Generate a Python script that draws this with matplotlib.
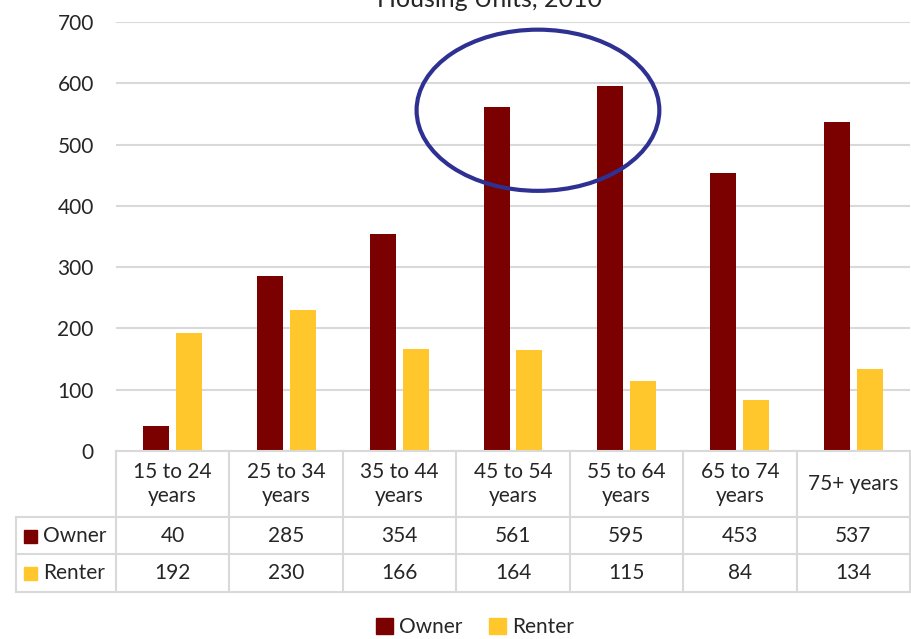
import matplotlib.pyplot as plt
from matplotlib.patches import Ellipse, Patch
import numpy as np

plt.rcParams['font.family'] = ['Lato', 'DejaVu Sans']

categories = ['15 to 24\nyears', '25 to 34\nyears', '35 to 44\nyears', '45 to 54\nyears',
              '55 to 64\nyears', '65 to 74\nyears', '75+ years']
owner = [40, 285, 354, 561, 595, 453, 537]
renter = [192, 230, 166, 164, 115, 84, 134]
series_names = ['Owner', 'Renter']
colors = ['#7B0000', '#FFC72C']
grid_col = '#D9D9D9'
txt_col = '#262626'
fs = 15

W, H = 912, 639
fig = plt.figure(figsize=(W / 100, H / 100), dpi=100)

def px_axes(x0, y0, x1, y1):
    # axes placed by pixel box (top-left origin)
    return fig.add_axes([x0 / W, 1 - y1 / H, (x1 - x0) / W, (y1 - y0) / H])

ax = px_axes(116, 22, 910, 451)
x = np.arange(len(categories))
bw = 0.23
ax.bar(x - 0.145, owner, bw, color=colors[0])
ax.bar(x + 0.145, renter, bw, color=colors[1])
ax.set_xlim(-0.5, len(categories) - 0.5)
ax.set_ylim(0, 700)
ax.set_yticks(range(0, 701, 100))
ax.yaxis.grid(True, color=grid_col, linewidth=1.5)
ax.set_axisbelow(True)
ax.tick_params(axis='y', length=0, pad=16, labelsize=fs, labelcolor=txt_col)
ax.tick_params(axis='x', bottom=False, labelbottom=False)
for s in ax.spines.values():
    s.set_visible(False)

# title sits partly above the top edge of the figure
fig.text(490 / W, 1 - 7 / H, 'Housing Units, 2010', ha='center', va='baseline',
         fontsize=18, color=txt_col)

# highlight around the two peak owner groups
ax.add_patch(Ellipse((3.22, 556), 2.14, 263, fill=False, edgecolor='#2E3192',
                     linewidth=3, clip_on=False, zorder=5))

# data table below the bars
tb = px_axes(116, 451, 910, 592)
tb.set_xlim(-0.5, len(categories) - 0.5)
tb.set_ylim(141, 0)
tb.axis('off')
lw_col = 100 / 113.4
xl = -0.5 - lw_col
kw = dict(color=grid_col, linewidth=1.5, clip_on=False, solid_capstyle='projecting')
tb.plot([-0.5, 6.5], [0, 0], **kw)
for yy in (66, 103, 141):
    tb.plot([xl, 6.5], [yy, yy], **kw)
for xx in np.arange(-0.5, 7.0, 1.0):
    tb.plot([xx, xx], [0, 141], **kw)
tb.plot([xl, xl], [66, 141], **kw)

for i, c in enumerate(categories):
    tb.text(i, 33, c, ha='center', va='center', fontsize=fs, color=txt_col, linespacing=1.25)
    tb.text(i, 85, str(owner[i]), ha='center', va='center', fontsize=fs, color=txt_col)
    tb.text(i, 122, str(renter[i]), ha='center', va='center', fontsize=fs, color=txt_col)

sq = 13 / 113.4
for yy, name, col in ((85, series_names[0], colors[0]), (122, series_names[1], colors[1])):
    tb.add_patch(plt.Rectangle((xl + 8 / 113.4, yy - 6.5), sq, 13, color=col, clip_on=False))
    tb.text(xl + 27 / 113.4, yy, name, ha='left', va='center', fontsize=fs, color=txt_col)

handles = [Patch(color=c) for c in colors]
fig.legend(handles, series_names, loc='center', bbox_to_anchor=(475 / W, 1 - 627 / H),
           ncol=2, frameon=False, fontsize=fs, handlelength=0.8, handleheight=0.8,
           handletextpad=0.3, columnspacing=1.3, labelcolor=txt_col)

fig.savefig('out.png', dpi=100)
